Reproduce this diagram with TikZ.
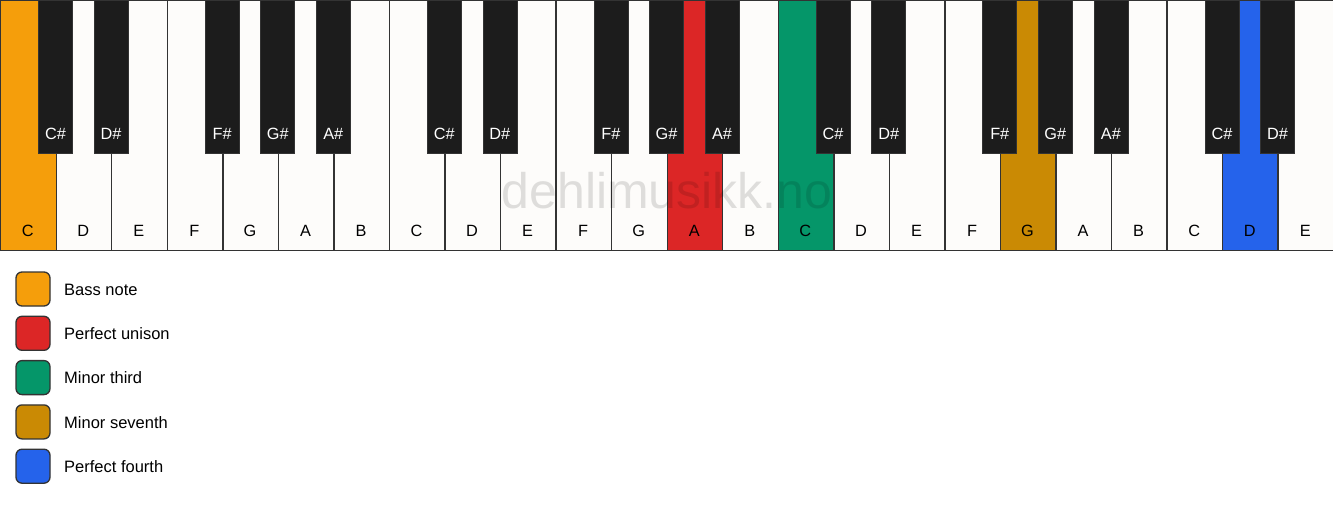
\documentclass[tikz,border=0pt]{standalone}
\usepackage{fontspec}
\setmainfont{Liberation Sans}
\definecolor{keywhite}{HTML}{FDFCFA}
\definecolor{keyblack}{HTML}{1C1C1C}
\definecolor{keyline}{HTML}{333333}
\definecolor{cbass}{HTML}{F59E0B}
\definecolor{cunison}{HTML}{DC2626}
\definecolor{cthird}{HTML}{059669}
\definecolor{cseventh}{HTML}{CA8A04}
\definecolor{cfourth}{HTML}{2563EB}
\tikzset{
  whitekey/.style={draw=keyline, line width=1.4pt, rectangle, inner sep=0pt,
    minimum width=55.54pt, minimum height=250pt, anchor=north west},
  blackkey/.style={draw=keyline, line width=0.6pt, fill=keyblack, rectangle, inner sep=0pt,
    minimum width=34pt, minimum height=153pt, anchor=north},
  wlabel/.style={font=\fontsize{16.3}{19}\selectfont, text=black, anchor=base, inner sep=0pt},
  blabel/.style={font=\fontsize{16.3}{19}\selectfont, text=white, anchor=base, inner sep=0pt},
  legbox/.style={draw=keyline, line width=1.3pt, rectangle, rounded corners=6pt,
    minimum width=34pt, minimum height=34pt, inner sep=0pt},
  legtext/.style={font=\fontsize{16.5}{19}\selectfont, anchor=base west, inner sep=0pt},
}
\begin{document}
\begin{tikzpicture}[x=1pt,y=-1pt]
\useasboundingbox (0,0) rectangle (1333,506);
\fill[white] (0,0) rectangle (1333,506);
\def\W{55.5417}
% white keys
\foreach \i/\n/\c in {0/C/cbass,1/D/keywhite,2/E/keywhite,3/F/keywhite,4/G/keywhite,5/A/keywhite,6/B/keywhite,
  7/C/keywhite,8/D/keywhite,9/E/keywhite,10/F/keywhite,11/G/keywhite,12/A/cunison,13/B/keywhite,
  14/C/cthird,15/D/keywhite,16/E/keywhite,17/F/keywhite,18/G/cseventh,19/A/keywhite,20/B/keywhite,
  21/C/keywhite,22/D/cfourth,23/E/keywhite}{
  \node[whitekey, fill=\c] (w\i) at (\i*\W,0) {};
  \node[wlabel] (wl\i) at (\i*\W+\W/2,236.8) {\n};
}
% black keys
\foreach \i/\n in {0/C\#,1/D\#,3/F\#,4/G\#,5/A\#,7/C\#,8/D\#,10/F\#,11/G\#,12/A\#,
  14/C\#,15/D\#,17/F\#,18/G\#,19/A\#,21/C\#,22/D\#}{
  \node[blackkey] (b\i) at ({(\i+1)*\W},0) {};
  \node[blabel] (bl\i) at ({(\i+1)*\W},139.3) {\n};
}
% watermark
\node[font=\fontsize{50}{60}\selectfont, text=black, text opacity=0.12, anchor=base, inner sep=0pt] (wm) at (667,208) {dehlimusikk.no};
% legend
\foreach \k/\c/\t in {0/cbass/Bass note,1/cunison/Perfect unison,2/cthird/Minor third,3/cseventh/Minor seventh,4/cfourth/Perfect fourth}{
  \node[legbox, fill=\c] (lb\k) at (33,289+\k*44.3) {};
  \node[legtext] (lt\k) at (64,295.3+\k*44.3) {\t};
}
\end{tikzpicture}
\end{document}
